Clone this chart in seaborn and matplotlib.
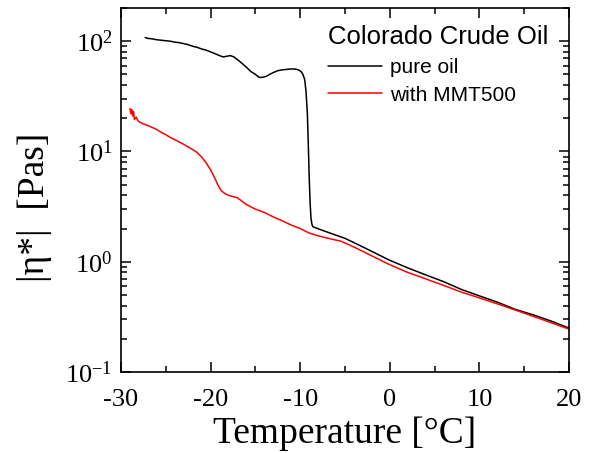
import matplotlib
matplotlib.use("Agg")
import matplotlib.pyplot as plt
import seaborn as sns
import numpy as np
import pandas as pd
from matplotlib.ticker import LogLocator, MultipleLocator, FuncFormatter, NullFormatter

# pure oil curve (temperature in degC, |eta*| in Pa s)
pure_T = [-27.3, -27.0, -26.5, -26.0, -25.5, -25.0, -24.5, -24.0, -23.5, -23.0,
          -22.5, -22.0, -21.5, -21.0, -20.5, -20.0, -19.5, -19.0, -18.6, -18.2,
          -17.8, -17.4, -17.0, -16.5, -16.0, -15.5, -15.0, -14.6, -14.2, -13.8,
          -13.4, -13.0, -12.5, -12.0, -11.5, -11.0, -10.6, -10.2, -9.9, -9.7,
          -9.5, -9.35, -9.2, -9.1, -9.0, -8.9, -8.8, -8.7, -8.6, -8.0,
          -7.0, -6.0, -5.0, -4.0, -3.0, -2.0, -1.0, 0.0, 2.0, 4.0,
          6.0, 8.0, 10.0, 12.0, 14.0, 16.0, 18.0, 20.0]
pure_eta = [108, 106, 105, 103, 102, 101, 100, 98, 97, 95,
            93, 90, 88, 85, 83, 80, 77, 74, 72, 73,
            74, 72, 68, 63, 58, 53, 50, 47, 47, 48,
            50, 52, 54, 55, 55.5, 56, 56, 55, 53, 50,
            45, 35, 22, 12, 6, 3.5, 2.5, 2.2, 2.08, 1.99,
            1.86, 1.74, 1.63, 1.49, 1.36, 1.24, 1.13, 1.03, 0.88, 0.76,
            0.66, 0.56, 0.49, 0.43, 0.37, 0.33, 0.29, 0.25]

# oil with MMT500
mmt_T = [-29.0, -28.9, -28.8, -28.7, -28.6, -28.5, -28.3, -28.1, -27.9, -27.5,
         -27.0, -26.5, -26.0, -25.5, -25.0, -24.5, -24.0, -23.5, -23.0, -22.5,
         -22.0, -21.5, -21.0, -20.5, -20.0, -19.6, -19.2, -18.8, -18.4, -18.0,
         -17.0, -16.0, -15.0, -14.0, -13.0, -12.0, -11.0, -10.0, -9.0, -8.0,
         -7.0, -6.0, -5.5, -5.0, -4.0, -3.0, -2.0, -1.0, 0.0, 2.0,
         4.0, 6.0, 8.0, 10.0, 12.0, 14.0, 16.0, 18.0, 20.0]
mmt_eta = [24.5, 22, 24, 21, 23, 19.5, 20.5, 19, 18.4, 17.8,
           17.2, 16.5, 15.8, 14.9, 14.2, 13.4, 12.8, 12.2, 11.6, 11.0,
           10.4, 9.8, 8.9, 7.9, 6.8, 5.9, 5.0, 4.4, 4.15, 4.0,
           3.8, 3.3, 3.0, 2.8, 2.55, 2.35, 2.15, 2.0, 1.82, 1.72,
           1.64, 1.57, 1.54, 1.48, 1.36, 1.24, 1.13, 1.03, 0.94, 0.80,
           0.70, 0.61, 0.53, 0.47, 0.415, 0.365, 0.32, 0.28, 0.245]

sns.set_style("ticks", {
    "xtick.direction": "in", "ytick.direction": "in",
    "xtick.top": True, "ytick.right": True,
    "xtick.color": "black", "ytick.color": "black",
    "axes.edgecolor": "black", "axes.labelcolor": "black",
    "text.color": "black",
})
plt.rcParams.update({
    "font.family": ["Liberation Serif", "DejaVu Serif"],
    "mathtext.fontset": "custom",
    "mathtext.rm": "Liberation Serif",
    "mathtext.it": "Liberation Serif:italic",
    "axes.unicode_minus": False,
    "axes.linewidth": 1.2,
    "text.color": "black",
    "axes.labelcolor": "black",
    "xtick.labelcolor": "black", "ytick.labelcolor": "black",
    "xtick.major.size": 7, "ytick.major.size": 7,
    "xtick.minor.size": 4, "ytick.minor.size": 4,
    "xtick.major.width": 1.1, "ytick.major.width": 1.1,
    "xtick.minor.width": 1.1, "ytick.minor.width": 1.1,
    "xtick.major.pad": 12, "ytick.major.pad": 6,
    "xtick.labelsize": 19, "ytick.labelsize": 19,
})

fig = plt.figure(figsize=(5.94, 4.53), dpi=100)
ax = fig.add_axes([121 / 594, 1 - 372 / 453, 448 / 594, 364 / 453])

df_pure = pd.DataFrame({"T": pure_T, "eta": pure_eta})
df_mmt = pd.DataFrame({"T": mmt_T, "eta": mmt_eta})
sns.lineplot(data=df_pure, x="T", y="eta", color="black", lw=1.1,
             sort=False, estimator=None, label="pure oil", ax=ax)
sns.lineplot(data=df_mmt, x="T", y="eta", color="#ff0000", lw=1.1,
             sort=False, estimator=None, label="with MMT500", ax=ax)

ax.set_yscale("log")
ax.set_xlim(-30, 20)
ax.set_ylim(0.1, 200)
ax.xaxis.set_major_locator(MultipleLocator(10))
ax.xaxis.set_minor_locator(MultipleLocator(5))
ax.yaxis.set_major_locator(LogLocator(base=10))
ax.yaxis.set_minor_locator(LogLocator(base=10, subs=np.arange(2, 10)))
ax.yaxis.set_major_formatter(
    FuncFormatter(lambda v, p: r"$\mathregular{10^{%d}}$" % int(round(np.log10(v)))))
ax.yaxis.set_minor_formatter(NullFormatter())

ax.set_xlabel("Temperature [°C]", fontsize=27, labelpad=4, color="black")
ax.set_ylabel("|η*|  [Pas]", fontsize=27, color="black")
ax.yaxis.set_label_coords(-0.154, 0.453)

leg = ax.legend(title="Colorado Crude Oil", loc="upper left",
                bbox_to_anchor=(0.462, 0.953), frameon=False,
                prop={"family": "Liberation Sans", "size": 15},
                handlelength=2.6, handletextpad=0.4, labelspacing=0.42,
                borderpad=0, borderaxespad=0, alignment="left",
                labelcolor="black")
leg.get_title().set_fontfamily("Liberation Sans")
leg.get_title().set_fontsize(18.5)
leg.get_title().set_color("black")

fig.savefig("out.png", dpi=100)
